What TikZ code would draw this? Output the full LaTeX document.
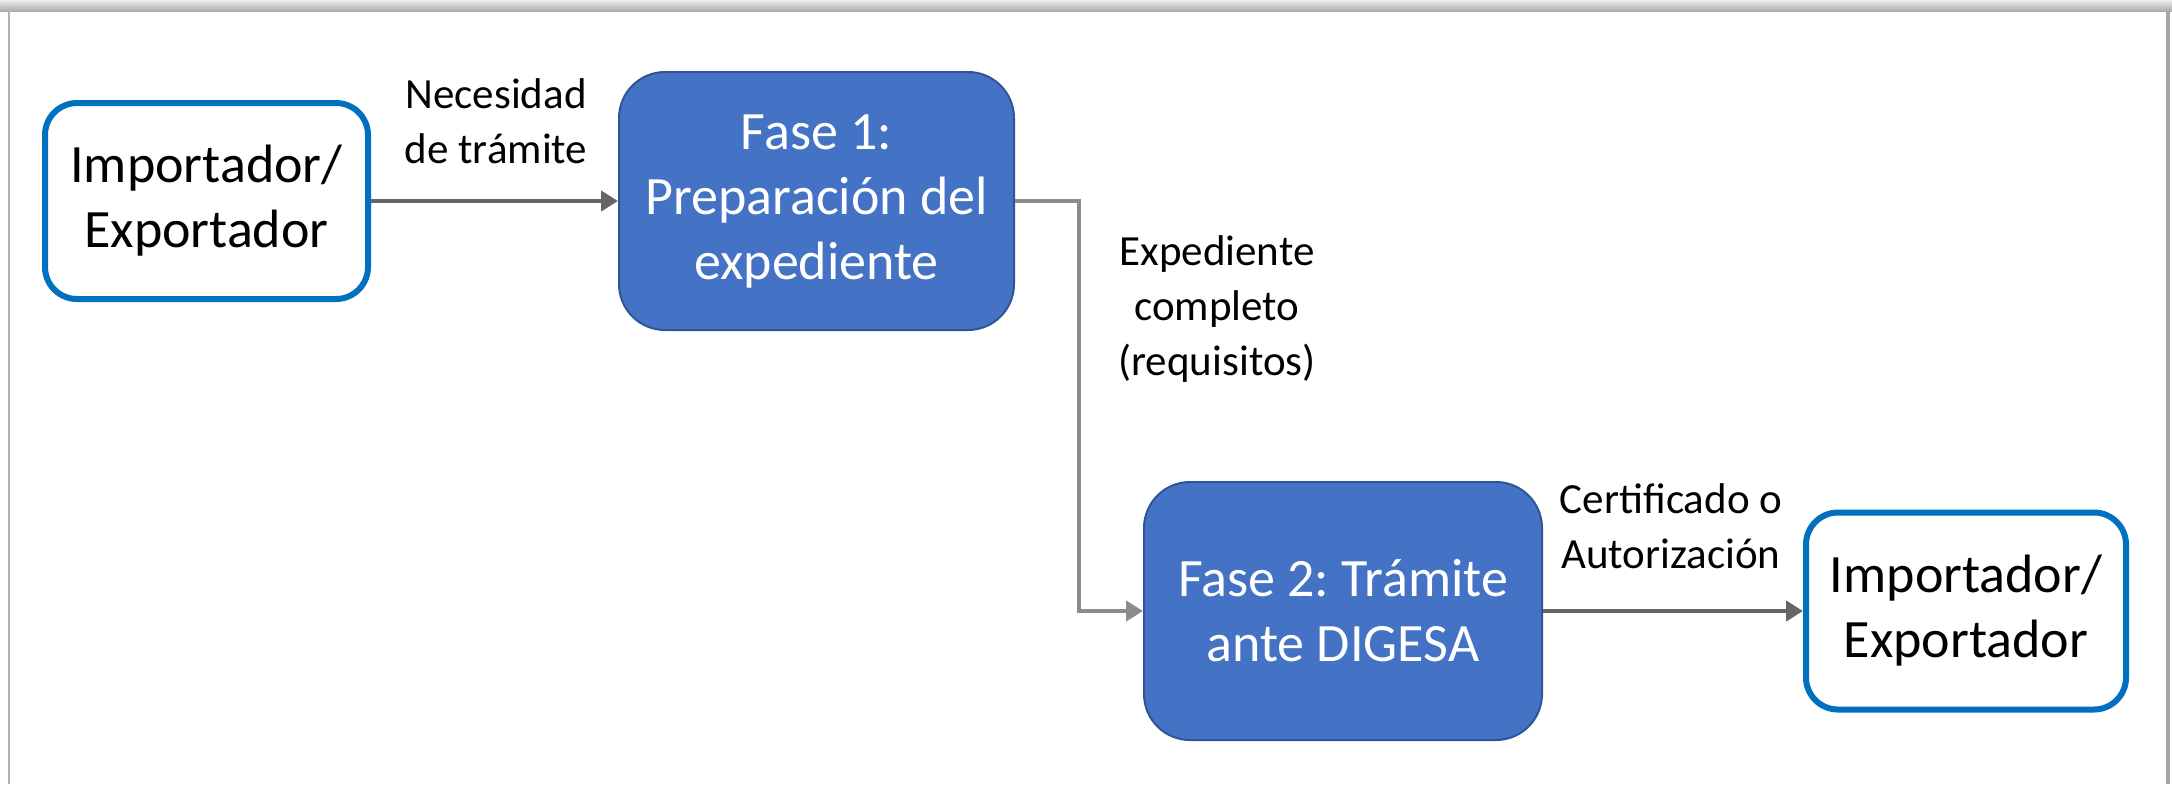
\documentclass[tikz,border=0pt]{standalone}
\usepackage{fontspec}
\setmainfont{Carlito}
\frenchspacing
\usetikzlibrary{arrows.meta}
\definecolor{fillblue}{HTML}{4472C4}
\definecolor{edgeblue}{HTML}{2F5597}
\definecolor{outblue}{HTML}{0070C0}
\definecolor{conn}{HTML}{666666}
\definecolor{connlight}{HTML}{8C8C8C}
\tikzset{
  phasebox/.style={rectangle, rounded corners=23pt, fill=fillblue, draw=edgeblue, line width=1pt,
    text=white, align=center, inner sep=0pt, font=\fontsize{27}{32.5}\selectfont},
  actorbox/.style={rectangle, rounded corners=16pt, fill=white, draw=outblue, line width=3pt,
    text=black, align=center, inner sep=0pt, font=\fontsize{27}{32.5}\selectfont},
  flowlabel/.style={align=center, inner sep=0pt, text=black, font=\fontsize{21.5}{27.5}\selectfont},
  flow/.style={draw=conn, line width=2.2pt, -{Triangle[length=8.5pt,width=10pt]}},
}
\begin{document}
\begin{tikzpicture}[x=0.5pt,y=-0.5pt]
\useasboundingbox (0,0) rectangle (2172,784);
% frame
\fill[top color=gray!15, bottom color=gray!65] (0,0) rectangle (2172,11);
\draw[gray!60, line width=1pt] (9,11) -- (9,784);
\draw[gray!70, line width=2pt] (2168,11) -- (2168,784);
% nodes
\node[actorbox, minimum width=161.5pt, minimum height=98pt] (imp1) at (206.5,201) {Importador/\\Exportador};
\node[phasebox, minimum width=197.5pt, minimum height=129pt] (f1) at (816.5,201) {Fase 1:\\Preparación del\\expediente};
\node[phasebox, minimum width=199pt, minimum height=129pt] (f2) at (1343,611) {Fase 2: Trámite\\ante DIGESA};
\node[actorbox, minimum width=160pt, minimum height=98.5pt] (imp2) at (1966,611) {Importador/\\Exportador};
% labels
\node[flowlabel] (l1) at (496,121) {Necesidad\\de trámite};
\node[flowlabel] (l2) at (1217,309) {Expediente\\completo\\(requisitos)};
\node[flowlabel] (l3) at (1671,526) {Certificado o\\Autorización};
% connectors
\coordinate (k) at (1079,201);
\draw[flow] (imp1.east) -- (f1.west);
\draw[flow, draw=connlight] (f1.east) -- (k) |- (f2.west);
\draw[flow] (f2.east) -- (imp2.west);
\end{tikzpicture}
\end{document}
